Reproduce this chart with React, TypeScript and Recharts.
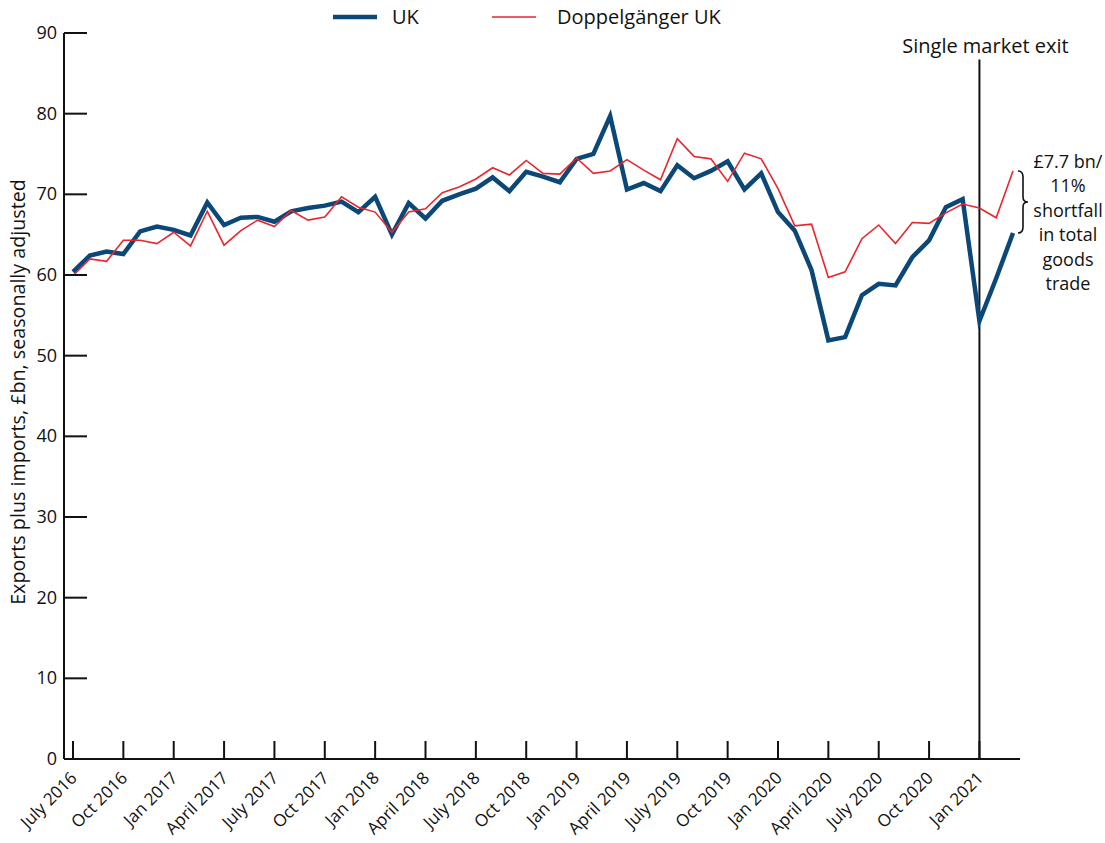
import React from 'react';
import { LineChart, Line, XAxis, YAxis, ReferenceLine, Legend } from 'recharts';

const months = [
  'July 2016', 'Aug 2016', 'Sept 2016', 'Oct 2016', 'Nov 2016', 'Dec 2016',
  'Jan 2017', 'Feb 2017', 'Mar 2017', 'April 2017', 'May 2017', 'June 2017',
  'July 2017', 'Aug 2017', 'Sept 2017', 'Oct 2017', 'Nov 2017', 'Dec 2017',
  'Jan 2018', 'Feb 2018', 'Mar 2018', 'April 2018', 'May 2018', 'June 2018',
  'July 2018', 'Aug 2018', 'Sept 2018', 'Oct 2018', 'Nov 2018', 'Dec 2018',
  'Jan 2019', 'Feb 2019', 'Mar 2019', 'April 2019', 'May 2019', 'June 2019',
  'July 2019', 'Aug 2019', 'Sept 2019', 'Oct 2019', 'Nov 2019', 'Dec 2019',
  'Jan 2020', 'Feb 2020', 'Mar 2020', 'April 2020', 'May 2020', 'June 2020',
  'July 2020', 'Aug 2020', 'Sept 2020', 'Oct 2020', 'Nov 2020', 'Dec 2020',
  'Jan 2021', 'Feb 2021', 'Mar 2021',
];

const ukValues = [
  60.4, 62.4, 62.9, 62.6, 65.4, 66.0, 65.6, 64.9, 69.0, 66.2, 67.1, 67.2,
  66.6, 67.9, 68.3, 68.6, 69.1, 67.8, 69.7, 65.0, 68.9, 67.0, 69.2, 70.0,
  70.7, 72.1, 70.4, 72.8, 72.2, 71.5, 74.4, 75.0, 79.7, 70.6, 71.4, 70.4,
  73.6, 72.0, 72.9, 74.1, 70.6, 72.6, 67.8, 65.5, 60.6, 51.9, 52.3, 57.5,
  58.9, 58.7, 62.2, 64.3, 68.4, 69.4, 54.3, 59.6, 65.2,
];

const doppelValues = [
  59.9, 62.0, 61.7, 64.3, 64.3, 63.9, 65.3, 63.6, 67.9, 63.7, 65.5, 66.8,
  66.0, 68.0, 66.8, 67.2, 69.7, 68.4, 67.8, 65.3, 67.8, 68.2, 70.2, 70.9,
  71.9, 73.3, 72.4, 74.2, 72.6, 72.5, 74.5, 72.6, 72.9, 74.3, 73.0, 71.8,
  76.9, 74.7, 74.4, 71.6, 75.1, 74.4, 70.7, 66.1, 66.3, 59.7, 60.4, 64.5,
  66.2, 63.9, 66.5, 66.4, 67.7, 68.8, 68.3, 67.1, 72.9,
];

const yTicks = [0, 10, 20, 30, 40, 50, 60, 70, 80, 90];
const exitMonth = 'Jan 2021';
const exitLabel = 'Single market exit';
const shortfallLines = ['£7.7 bn/', '11%', 'shortfall', 'in total', 'goods', 'trade'];
const yAxisTitle = 'Exports plus imports, £bn, seasonally adjusted';
const seriesNames = ['UK', 'Doppelgänger UK'];

const UK_COLOR = '#0b4777';
const DOPPEL_COLOR = '#e8262d';
const FONT = '"Open Sans", "Noto Sans", sans-serif';

const data = months.map((m, i) => ({ month: m, uk: ukValues[i], doppel: doppelValues[i] }));
const lastMonth = months[months.length - 1];
const lastUk = ukValues[ukValues.length - 1];
const lastDoppel = doppelValues[doppelValues.length - 1];

const XTick = (props: any) => {
  const { x, y, payload } = props;
  const ax = x + 5;
  const ay = y + 20;
  return (
    <text
      x={ax}
      y={ay}
      transform={`rotate(-45, ${ax}, ${ay})`}
      textAnchor="end"
      fontSize={17}
      fontFamily={FONT}
      fill="#111"
    >
      {payload.value}
    </text>
  );
};

const YTick = (props: any) => {
  const { x, y, payload } = props;
  return (
    <text x={x} y={y + 6} textAnchor="end" fontSize={18} fontFamily={FONT} fill="#111">
      {payload.value}
    </text>
  );
};

const legendStarts: Record<string, number> = { UK: 333, 'Doppelgänger UK': 492 };
const legendGaps: Record<string, number> = { UK: 15, 'Doppelgänger UK': 21 };

const LegendContent = (props: any) => {
  const { payload } = props;
  const items = [...(payload || [])].sort(
    (a: any, b: any) => seriesNames.indexOf(a.value) - seriesNames.indexOf(b.value)
  );
  return (
    <div style={{ position: 'relative', height: 33, width: 1105, fontFamily: FONT }}>
      {items.map((p: any) => (
        <div
          key={p.value}
          style={{
            position: 'absolute',
            left: legendStarts[p.value],
            top: 3,
            display: 'flex',
            alignItems: 'center',
            fontSize: 20,
            color: '#111',
            whiteSpace: 'nowrap',
          }}
        >
          <svg width={44} height={8} style={{ marginRight: legendGaps[p.value] }}>
            <line
              x1={0}
              x2={44}
              y1={4}
              y2={4}
              stroke={p.color}
              strokeWidth={p.payload && p.payload.strokeWidth ? p.payload.strokeWidth : 2}
            />
          </svg>
          <span>{p.value}</span>
        </div>
      ))}
    </div>
  );
};

const ExitLabel = (props: any) => {
  const { viewBox } = props;
  if (!viewBox) return null;
  return (
    <text
      x={viewBox.x + 6}
      y={viewBox.y - 7}
      textAnchor="middle"
      fontSize={20}
      fontFamily={FONT}
      fill="#111"
    >
      {exitLabel}
    </text>
  );
};

const BraceShape = (props: any) => {
  const { x1, y1, y2 } = props;
  const top = Math.min(y1, y2);
  const bot = Math.max(y1, y2);
  const mid = (top + bot) / 2;
  const x0 = x1 + 5;
  const xb = x0 + 5;
  const d = `M ${x0} ${top} Q ${xb} ${top} ${xb} ${top + 6} L ${xb} ${mid - 5} Q ${xb} ${mid} ${xb + 5} ${mid} Q ${xb} ${mid} ${xb} ${mid + 5} L ${xb} ${bot - 6} Q ${xb} ${bot} ${x0} ${bot}`;
  const cx = x1 + 55;
  const firstBase = mid - 34;
  return (
    <g>
      <path d={d} fill="none" stroke="#111" strokeWidth={1.6} />
      <text textAnchor="middle" fontSize={18} fontFamily={FONT} fill="#111">
        {shortfallLines.map((t, i) => (
          <tspan key={t} x={cx} y={firstBase + i * 24.4}>
            {t}
          </tspan>
        ))}
      </text>
    </g>
  );
};

const YTitle = (props: any) => {
  const { viewBox } = props;
  if (!viewBox) return null;
  const cx = viewBox.x + 25;
  const cy = viewBox.y + viewBox.height / 2 - 4;
  return (
    <text
      x={cx}
      y={cy}
      transform={`rotate(-90, ${cx}, ${cy})`}
      textAnchor="middle"
      fontSize={19.7}
      fontFamily={FONT}
      fill="#111"
    >
      {yAxisTitle}
    </text>
  );
};

export default function App() {
  return (
    <div style={{ position: 'absolute', left: 0, top: 0, width: 1105, height: 843, background: '#fff' }}>
      <LineChart
        width={1105}
        height={843}
        data={data}
        margin={{ top: 0, right: 85, bottom: 0, left: 0 }}
      >
        <Legend verticalAlign="top" align="left" content={<LegendContent />} />
        <XAxis
          dataKey="month"
          interval={2}
          height={84}
          padding={{ left: 9, right: 7 }}
          tickSize={-18}
          tickMargin={18}
          tick={<XTick />}
          axisLine={{ stroke: '#111', strokeWidth: 2 }}
          tickLine={{ stroke: '#111', strokeWidth: 2 }}
        />
        <YAxis
          domain={[0, 90]}
          ticks={yTicks}
          width={64}
          tickSize={-23}
          tickMargin={30}
          tick={<YTick />}
          axisLine={{ stroke: '#111', strokeWidth: 2 }}
          tickLine={{ stroke: '#111', strokeWidth: 2 }}
          label={<YTitle />}
        />
        <ReferenceLine
          segment={[
            { x: exitMonth, y: 86.7 },
            { x: exitMonth, y: 0 },
          ]}
          stroke="#111"
          strokeWidth={2}
          label={<ExitLabel />}
        />
        <ReferenceLine
          segment={[
            { x: lastMonth, y: lastUk },
            { x: lastMonth, y: lastDoppel },
          ]}
          shape={<BraceShape />}
        />
        <Line
          type="linear"
          dataKey="uk"
          name="UK"
          stroke={UK_COLOR}
          strokeWidth={4.5}
          dot={false}
          isAnimationActive={false}
        />
        <Line
          type="linear"
          dataKey="doppel"
          name="Doppelgänger UK"
          stroke={DOPPEL_COLOR}
          strokeWidth={1.6}
          dot={false}
          isAnimationActive={false}
        />
      </LineChart>
    </div>
  );
}
